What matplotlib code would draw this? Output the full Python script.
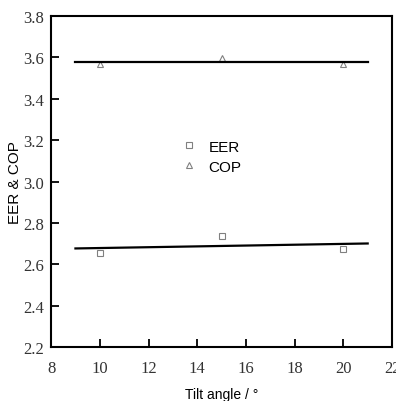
import numpy as np
import matplotlib
matplotlib.use("Agg")
import matplotlib.pyplot as plt
from matplotlib.lines import Line2D

tilt = [10, 15, 20]
eer = [2.654, 2.738, 2.674]
cop = [3.566, 3.598, 3.566]
fit_range = [9, 21]
xticks = [8, 10, 12, 14, 16, 18, 20, 22]
yticks = [2.2, 2.4, 2.6, 2.8, 3.0, 3.2, 3.4, 3.6, 3.8]

fig = plt.figure(figsize=(3.96, 4.02), dpi=100)
ax = fig.add_axes([0.129, 0.134, 0.861, 0.824])

sans = ['Liberation Sans', 'DejaVu Sans']
serif = ['Liberation Serif', 'DejaVu Serif']

mk = dict(linestyle='none', markerfacecolor='white', markeredgecolor='#808080',
          markeredgewidth=0.8, markersize=5)
ax.plot(tilt, eer, marker='s', **mk)
ax.plot(tilt, cop, marker='^', **mk)

xf = np.array(fit_range, dtype=float)
for ys in (eer, cop):
    p = np.polyfit(tilt, ys, 1)
    ax.plot(xf, np.polyval(p, xf), color='black', lw=1.6)

ax.set_xlim(8, 22)
ax.set_ylim(2.2, 3.8)
ax.set_xticks(xticks)
ax.set_yticks(yticks)
ax.set_xticklabels([str(v) for v in xticks], family=serif, fontsize=12, color='#333333')
ax.set_yticklabels([f"{v:.1f}" for v in yticks], family=serif, fontsize=12, color='#333333')
ax.tick_params(direction='in', length=6, width=1.3, top=False, right=False)
ax.tick_params(axis='y', pad=5)
ax.tick_params(axis='x', pad=9)
for s in ax.spines.values():
    s.set_linewidth(1.5)

ax.set_xlabel('Tilt angle / °', family=sans, fontsize=10, labelpad=8)
ax.set_ylabel('EER & COP', family=sans, fontsize=11, labelpad=1)

handles = [Line2D([], [], marker='s', **mk), Line2D([], [], marker='^', **mk)]
leg = ax.legend(handles, ['EER', 'COP'], loc='center', bbox_to_anchor=(0.47, 0.575),
                frameon=False, handlelength=1.0, handletextpad=0.8, labelspacing=0.4,
                prop={'family': sans, 'size': 11})

fig.savefig('out.png', dpi=100)
